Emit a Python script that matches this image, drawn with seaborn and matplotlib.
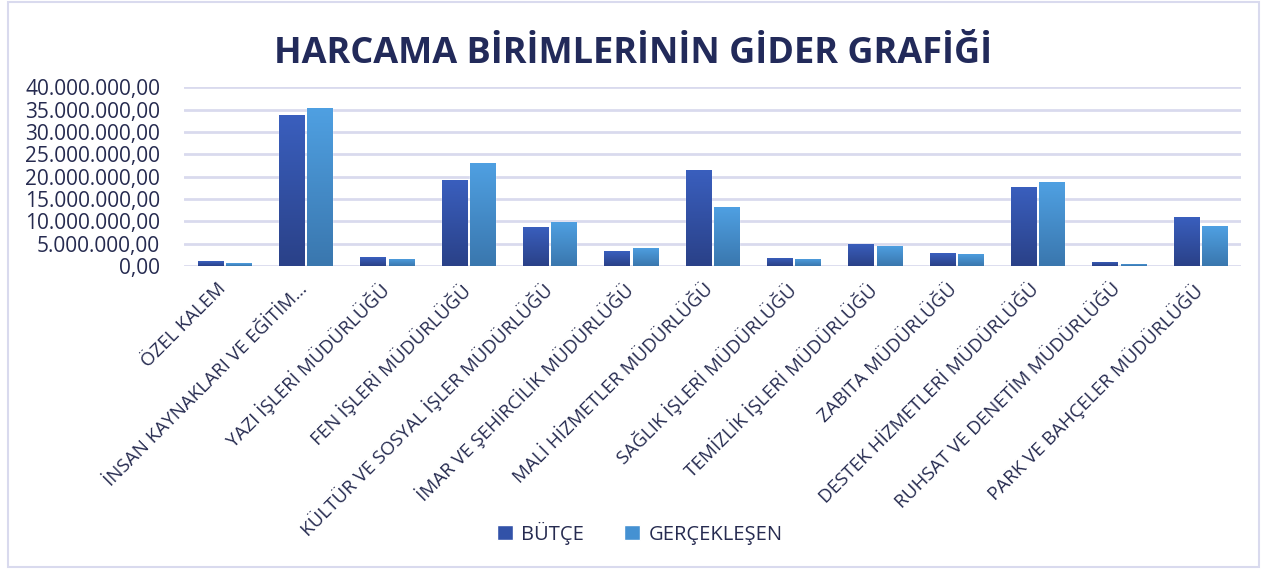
import numpy as np
import pandas as pd
import matplotlib
matplotlib.use("Agg")
import matplotlib.pyplot as plt
import matplotlib.transforms as mtransforms
import seaborn as sns
from matplotlib.ticker import FuncFormatter, MultipleLocator
from matplotlib.patches import Rectangle
from matplotlib.colors import LinearSegmentedColormap

categories = [
    "ÖZEL KALEM",
    "İNSAN KAYNAKLARI VE EĞİTİM…",
    "YAZI İŞLERİ MÜDÜRLÜĞÜ",
    "FEN İŞLERİ MÜDÜRLÜĞÜ",
    "KÜLTÜR VE SOSYAL İŞLER MÜDÜRLÜĞÜ",
    "İMAR VE ŞEHİRCİLİK MÜDÜRLÜĞÜ",
    "MALİ HİZMETLER MÜDÜRLÜĞÜ",
    "SAĞLIK İŞLERİ MÜDÜRLÜĞÜ",
    "TEMİZLİK İŞLERİ MÜDÜRLÜĞÜ",
    "ZABITA MÜDÜRLÜĞÜ",
    "DESTEK HİZMETLERİ MÜDÜRLÜĞÜ",
    "RUHSAT VE DENETİM MÜDÜRLÜĞÜ",
    "PARK VE BAHÇELER MÜDÜRLÜĞÜ",
]
butce = [1.1e6, 33.8e6, 2.0e6, 19.25e6, 8.75e6, 3.35e6, 21.5e6, 1.8e6, 4.95e6, 2.9e6, 17.7e6, 0.9e6, 11.0e6]
gerceklesen = [0.67e6, 35.4e6, 1.57e6, 23.1e6, 9.85e6, 4.05e6, 13.2e6, 1.57e6, 4.5e6, 2.7e6, 18.8e6, 0.45e6, 8.95e6]
series_names = ["BÜTÇE", "GERÇEKLEŞEN"]
title = "HARCAMA BİRİMLERİNİN GİDER GRAFİĞİ"

df = pd.DataFrame({
    "Birim": categories * 2,
    "Seri": [series_names[0]] * len(categories) + [series_names[1]] * len(categories),
    "Tutar": butce + gerceklesen,
})

sns.set_theme(style="white")
plt.rcParams["font.family"] = ["Open Sans", "DejaVu Sans"]

text_color = "#262B50"
colors = {"BÜTÇE": "#3252A8", "GERÇEKLEŞEN": "#4591D2"}

fig = plt.figure(figsize=(12.67, 5.69), dpi=100)
ax = fig.add_axes([0.145, 0.5325, 0.8345, 0.3141])

sns.barplot(data=df, x="Birim", y="Tutar", hue="Seri", palette=colors,
            width=0.7, gap=0.12, ax=ax, legend=True, saturation=1)

# gradient overlay on bars
grad_cols = {"BÜTÇE": ("#3A5FBE", "#2A4188"), "GERÇEKLEŞEN": ("#4FA0E2", "#3A77AE")}
cmaps = {k: LinearSegmentedColormap.from_list(k, [v[1], v[0]]) for k, v in grad_cols.items()}
for container, name in zip(ax.containers, series_names):
    for bar in container:
        x0, y0 = bar.get_x(), bar.get_y()
        w, h = bar.get_width(), bar.get_height()
        if h <= 0:
            continue
        grad = np.linspace(0, 1, 100).reshape(-1, 1)
        im = ax.imshow(grad, extent=[x0, x0 + w, y0, y0 + h], origin="lower",
                       aspect="auto", cmap=cmaps[name], zorder=bar.get_zorder() + 0.1)
        im.set_clip_path(bar)

ax.set_xlim(-0.5, len(categories) - 0.5)
ax.set_ylim(0, 40e6)
ax.yaxis.set_major_locator(MultipleLocator(5e6))

def tr_fmt(v, pos):
    s = f"{v:,.2f}"
    return s.replace(",", "X").replace(".", ",").replace("X", ".")

ax.yaxis.set_major_formatter(FuncFormatter(tr_fmt))
ax.grid(axis="y", color="#D9DAEE", linewidth=2)
ax.set_axisbelow(True)
for sp in ax.spines.values():
    sp.set_visible(False)
ax.set_xlabel("")
ax.set_ylabel("")
ax.tick_params(axis="y", length=0, pad=17, labelsize=15, labelcolor=text_color)
ax.tick_params(axis="x", length=0, pad=10, labelsize=13.5, labelcolor=text_color)
offset = mtransforms.ScaledTranslation(-8 / 100, 0, fig.dpi_scale_trans)
for lbl in ax.get_xticklabels():
    lbl.set_rotation(45)
    lbl.set_ha("right")
    lbl.set_va("top")
    lbl.set_rotation_mode("anchor")
    lbl.set_transform(lbl.get_transform() + offset)

fig.suptitle(title, x=0.5, y=0.937, fontsize=26, fontweight="bold", color="#222A5A")

ax.legend_.remove()
handles = [Rectangle((0, 0), 1, 1, facecolor=colors[n]) for n in series_names]
fig.legend(handles, series_names, loc="center", bbox_to_anchor=(0.505, 0.063), ncol=2,
           frameon=False, fontsize=14.5, labelcolor=text_color, handlelength=0.8,
           handleheight=0.8, handletextpad=0.4, columnspacing=2.0)

fig.patches.append(Rectangle((0.006, 0.004), 0.988, 0.992, transform=fig.transFigure,
                             fill=False, edgecolor="#D9DAEE", linewidth=1.5))

fig.savefig("out.png", dpi=100, facecolor="white")
